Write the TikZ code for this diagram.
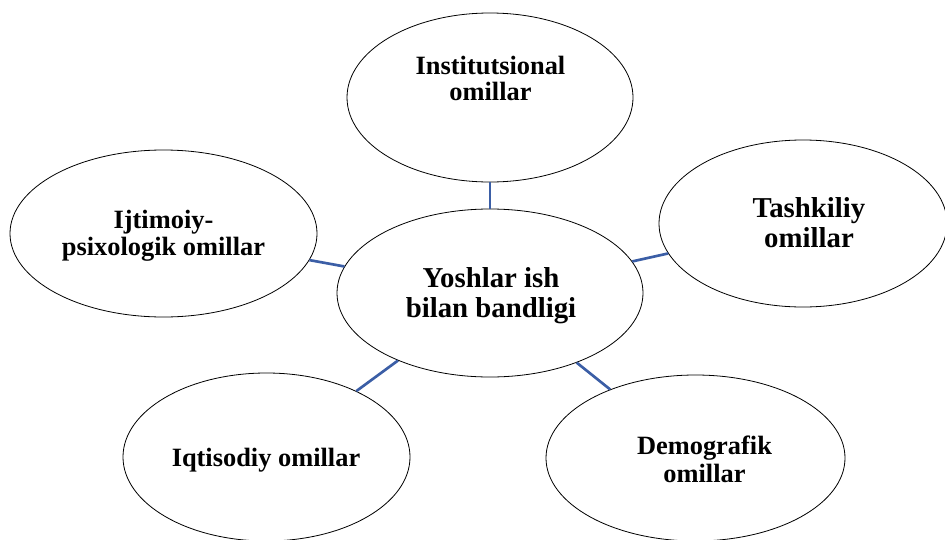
\documentclass[tikz,border=0pt]{standalone}
\usepackage{fontspec}
\setmainfont{Liberation Serif}
\usetikzlibrary{shapes.geometric}
\definecolor{linkblue}{RGB}{59,94,166}
\tikzset{
  oval/.style={draw=black, line width=0.6pt, ellipse, inner sep=0pt, fill=white},
  lbl/.style={align=center, anchor=base, inner sep=0pt, font=\bfseries\fontsize{19.8pt}{19.8pt}\selectfont},
  biglbl/.style={align=center, anchor=base, inner sep=0pt, font=\bfseries\fontsize{21.6pt}{21.8pt}\selectfont},
  link/.style={draw=linkblue, line width=2pt}
}
\begin{document}
\begin{tikzpicture}[x=0.75pt, y=-0.75pt]
\useasboundingbox (0,0) rectangle (945,539);
\clip (0,0) rectangle (945,539);
% ellipses
\node[oval, minimum width=214.5pt, minimum height=126.75pt] (inst) at (490,97.5) {};
\node[oval, minimum width=230.25pt, minimum height=125.25pt] (ijt) at (163.5,233.5) {};
\node[oval, minimum width=216pt, minimum height=125.25pt] (tash) at (803,223.5) {};
\node[oval, minimum width=229.5pt, minimum height=126pt] (ctr) at (490,293) {};
\node[oval, minimum width=215.25pt, minimum height=126pt] (iqt) at (266.5,457) {};
\node[oval, minimum width=224.25pt, minimum height=124.5pt] (dem) at (695.5,458) {};
% connectors
\draw[link] (inst) -- (ctr);
\draw[link] (ijt) -- (ctr);
\draw[link] (tash) -- (ctr);
\draw[link] (iqt) -- (ctr);
\draw[link] (dem) -- (ctr);
% labels (anchor base = baseline of the last line)
\node[lbl, font=\bfseries\fontsize{19.8pt}{19.5pt}\selectfont] (instT) at (490.5,100) {Institutsional\\omillar};
\node[lbl, font=\bfseries\fontsize{19.8pt}{20.25pt}\selectfont] (ijtT) at (163.5,255) {Ijtimoiy-\\psixologik omillar};
\node[biglbl] (tashT) at (809,247) {Tashkiliy\\omillar};
\node[biglbl] (ctrT) at (491,317) {Yoshlar ish\\bilan bandligi};
\node[lbl] (iqtT) at (266,466) {Iqtisodiy omillar};
\node[lbl, font=\bfseries\fontsize{19.8pt}{21pt}\selectfont] (demT) at (704.5,482) {Demografik\\omillar};
\end{tikzpicture}
\end{document}
